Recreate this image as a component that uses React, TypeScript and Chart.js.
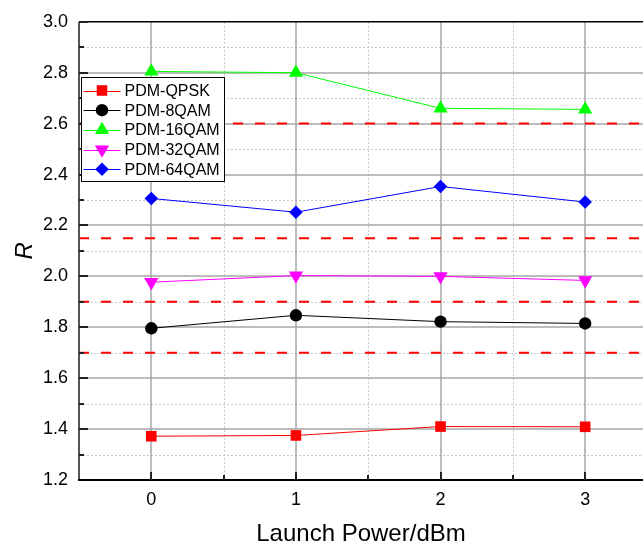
import React, { useEffect, useRef } from 'react';
import { Chart, registerables } from 'chart.js';

Chart.register(...registerables);

const FONT = '"Liberation Sans", Arial, sans-serif';

const xValues = [0, 1, 2, 3];
const seriesNames = ['PDM-QPSK', 'PDM-8QAM', 'PDM-16QAM', 'PDM-32QAM', 'PDM-64QAM'];
const qpsk = [1.372, 1.375, 1.41, 1.409];
const qam8 = [1.796, 1.847, 1.822, 1.815];
const qam16 = [2.805, 2.8, 2.66, 2.656];
const qam32 = [1.977, 2.003, 2.0, 1.984];
const qam64 = [2.306, 2.252, 2.353, 2.292];
const thresholds = [2.6, 2.15, 1.9, 1.7];

const yTicks = [1.2, 1.4, 1.6, 1.8, 2.0, 2.2, 2.4, 2.6, 2.8, 3.0];
const yMinor = [1.3, 1.5, 1.7, 1.9, 2.1, 2.3, 2.5, 2.7, 2.9];
const xTicks = [0, 1, 2, 3];
const xMinor = [0.5, 1.5, 2.5];
const X_MIN = -0.5;
const X_MAX = 3.4;
const Y_MIN = 1.2;
const Y_MAX = 3.0;

const colors = ['#ff0000', '#000000', '#00ff00', '#ff00ff', '#0000ff'];
const shapes = ['rect', 'circle', 'triangle', 'triangleDown', 'rectRot'];
const radii = [7.5, 6.2, 8.2, 8.2, 6.8];

function drawMarker(ctx: CanvasRenderingContext2D, shape: string, x: number, y: number, r: number, color: string) {
  ctx.save();
  ctx.fillStyle = color;
  ctx.beginPath();
  if (shape === 'rect') {
    const s = Math.SQRT1_2 * r;
    ctx.rect(x - s, y - s, 2 * s, 2 * s);
  } else if (shape === 'circle') {
    ctx.arc(x, y, r, 0, Math.PI * 2);
  } else if (shape === 'triangle' || shape === 'triangleDown') {
    let rad = shape === 'triangle' ? 0 : Math.PI;
    for (let i = 0; i < 3; i++) {
      const px = x + Math.sin(rad) * r;
      const py = y - Math.cos(rad) * r;
      if (i === 0) ctx.moveTo(px, py);
      else ctx.lineTo(px, py);
      rad += (2 * Math.PI) / 3;
    }
    ctx.closePath();
  } else if (shape === 'rectRot') {
    ctx.moveTo(x, y - r);
    ctx.lineTo(x + r, y);
    ctx.lineTo(x, y + r);
    ctx.lineTo(x - r, y);
    ctx.closePath();
  }
  ctx.fill();
  ctx.restore();
}

const customPlugin = {
  id: 'customDeco',
  beforeDatasetsDraw(chart: any) {
    const { ctx, chartArea: a, scales } = chart;
    const x = scales.x;
    const y = scales.y;
    ctx.save();
    ctx.lineWidth = 1;
    // minor dotted grid
    ctx.strokeStyle = '#c8c8c8';
    ctx.setLineDash([2, 2]);
    for (const v of yMinor) {
      const py = Math.round(y.getPixelForValue(v)) + 0.5;
      ctx.beginPath();
      ctx.moveTo(a.left, py);
      ctx.lineTo(a.right, py);
      ctx.stroke();
    }
    for (const v of xMinor) {
      const px = Math.round(x.getPixelForValue(v)) + 0.5;
      ctx.beginPath();
      ctx.moveTo(px, a.top);
      ctx.lineTo(px, a.bottom);
      ctx.stroke();
    }
    ctx.setLineDash([]);
    // major solid grid
    ctx.strokeStyle = '#a6a6a6';
    ctx.lineWidth = 1.5;
    for (const v of yTicks) {
      if (v <= Y_MIN || v >= Y_MAX) continue;
      const py = Math.round(y.getPixelForValue(v));
      ctx.beginPath();
      ctx.moveTo(a.left, py);
      ctx.lineTo(a.right, py);
      ctx.stroke();
    }
    for (const v of xTicks) {
      const px = Math.round(x.getPixelForValue(v));
      ctx.beginPath();
      ctx.moveTo(px, a.top);
      ctx.lineTo(px, a.bottom);
      ctx.stroke();
    }
    ctx.restore();
  },
  afterDatasetsDraw(chart: any) {
    const { ctx, chartArea: a, scales } = chart;
    const x = scales.x;
    const y = scales.y;
    ctx.save();
    // top border
    ctx.strokeStyle = '#000';
    ctx.lineWidth = 1.5;
    ctx.beginPath();
    ctx.moveTo(a.left, a.top);
    ctx.lineTo(a.right, a.top);
    ctx.stroke();
    // left axis
    ctx.strokeStyle = '#555';
    ctx.lineWidth = 2;
    ctx.beginPath();
    ctx.moveTo(a.left, a.top);
    ctx.lineTo(a.left, a.bottom + 1);
    ctx.stroke();
    // left ticks
    ctx.strokeStyle = '#222';
    for (const v of yTicks) {
      const py = Math.round(y.getPixelForValue(v));
      ctx.beginPath();
      ctx.moveTo(a.left, py);
      ctx.lineTo(a.left + 9, py);
      ctx.stroke();
    }
    for (const v of yMinor) {
      const py = Math.round(y.getPixelForValue(v));
      ctx.beginPath();
      ctx.moveTo(a.left, py);
      ctx.lineTo(a.left + 5, py);
      ctx.stroke();
    }
    // bottom axis
    ctx.strokeStyle = '#000';
    ctx.beginPath();
    ctx.moveTo(a.left - 1, a.bottom);
    ctx.lineTo(a.right, a.bottom);
    ctx.stroke();
    ctx.strokeStyle = '#222';
    for (const v of xTicks) {
      const px = Math.round(x.getPixelForValue(v));
      ctx.beginPath();
      ctx.moveTo(px, a.bottom);
      ctx.lineTo(px, a.bottom - 8);
      ctx.stroke();
    }
    for (const v of xMinor) {
      const px = Math.round(x.getPixelForValue(v));
      ctx.beginPath();
      ctx.moveTo(px, a.bottom);
      ctx.lineTo(px, a.bottom - 5);
      ctx.stroke();
    }
    ctx.restore();
  },
  afterDraw(chart: any) {
    const { ctx, chartArea: a } = chart;
    ctx.save();
    const bx = a.left + 2.5;
    const by = 77.5;
    const bw = 143;
    const bh = 104;
    ctx.fillStyle = '#fff';
    ctx.fillRect(bx, by, bw, bh);
    ctx.strokeStyle = '#000';
    ctx.lineWidth = 1;
    ctx.strokeRect(bx, by, bw, bh);
    ctx.font = `16px ${FONT}`;
    ctx.textBaseline = 'middle';
    ctx.textAlign = 'left';
    seriesNames.forEach((name, i) => {
      const ry = by + 13 + i * 19.7;
      ctx.strokeStyle = colors[i];
      ctx.lineWidth = 1;
      ctx.beginPath();
      ctx.moveTo(bx + 2, Math.round(ry) + 0.5);
      ctx.lineTo(bx + 39, Math.round(ry) + 0.5);
      ctx.stroke();
      drawMarker(ctx, shapes[i], bx + 20.5, ry, radii[i], colors[i]);
      ctx.fillStyle = '#000';
      ctx.fillText(name, bx + 43, ry + 1);
    });
    ctx.restore();
  },
};

const seriesValues = [qpsk, qam8, qam16, qam32, qam64];

export default function App() {
  const ref = useRef<HTMLCanvasElement | null>(null);
  useEffect(() => {
    if (!ref.current) return;
    const datasets: any[] = seriesValues.map((vals, i) => ({
      label: seriesNames[i],
      data: xValues.map((xv, j) => ({ x: xv, y: vals[j] })),
      borderColor: colors[i],
      backgroundColor: colors[i],
      borderWidth: 1,
      pointStyle: shapes[i] === 'triangleDown' ? 'triangle' : shapes[i],
      rotation: shapes[i] === 'triangleDown' ? 180 : 0,
      pointRadius: radii[i],
      pointBorderWidth: 0,
      showLine: true,
      tension: 0,
      clip: false,
    }));
    thresholds.forEach((t) => {
      datasets.push({
        label: 'threshold',
        data: [
          { x: X_MIN, y: t },
          { x: X_MAX, y: t },
        ],
        borderColor: '#ff0000',
        borderWidth: 2,
        borderDash: [10, 12],
        pointRadius: 0,
        showLine: true,
      });
    });
    const chart = new Chart(ref.current, {
      type: 'scatter',
      data: { datasets },
      plugins: [customPlugin],
      options: {
        animation: false,
        responsive: false,
        devicePixelRatio: 1,
        layout: { autoPadding: false, padding: { top: 18, right: 0, left: 0, bottom: 0 } },
        plugins: { legend: { display: false }, tooltip: { enabled: false } },
        scales: {
          x: {
            type: 'linear',
            min: X_MIN,
            max: X_MAX,
            afterBuildTicks: (s: any) => {
              s.ticks = xTicks.map((v) => ({ value: v }));
            },
            afterFit: (s: any) => {
              s.height = 66;
            },
            grid: { display: false, drawTicks: false },
            border: { display: false },
            ticks: {
              padding: 9,
              color: '#000',
              font: { family: FONT, size: 18 },
              callback: (v: any) => String(v),
            },
            title: {
              display: true,
              text: 'Launch Power/dBm',
              color: '#000',
              font: { family: FONT, size: 24 },
              padding: { top: 0, bottom: -3 },
            },
          },
          y: {
            type: 'linear',
            min: Y_MIN,
            max: Y_MAX,
            afterBuildTicks: (s: any) => {
              s.ticks = yTicks.map((v) => ({ value: v }));
            },
            afterFit: (s: any) => {
              s.width = 79;
            },
            grid: { display: false, drawTicks: false },
            border: { display: false },
            ticks: {
              padding: 11,
              color: '#000',
              font: { family: FONT, size: 18 },
              callback: (v: any) => Number(v).toFixed(1),
            },
            title: {
              display: true,
              text: 'R',
              color: '#000',
              font: { family: FONT, size: 24, style: 'italic' },
              padding: { top: 11, bottom: 0 },
            },
          },
        },
      } as any,
    });
    return () => chart.destroy();
  }, []);
  return (
    <div style={{ position: 'absolute', left: 0, top: 0, width: 643, height: 546 }}>
      <canvas ref={ref} width={643} height={546} style={{ width: 643, height: 546 }} />
    </div>
  );
}
